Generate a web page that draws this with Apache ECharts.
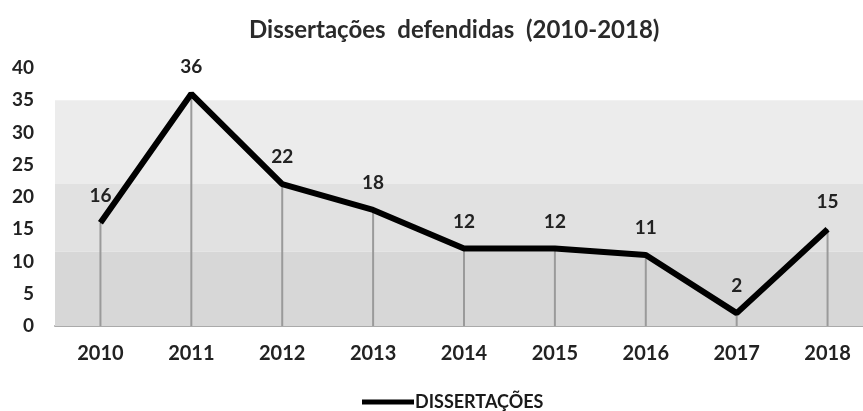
<!DOCTYPE html>
<html><head><meta charset="utf-8">
<script src="https://cdn.jsdelivr.net/npm/echarts@6/dist/echarts.min.js"></script>
<style>html,body{margin:0;padding:0;background:#fff;overflow:hidden}#c{width:873px;height:411px}</style>
</head><body><div id="c"></div>
<script>
const years = ['2010','2011','2012','2013','2014','2015','2016','2017','2018'];
const dissertacoes = [16,36,22,18,12,12,11,2,15];
const yTicks = [0,5,10,15,20,25,30,35,40];
const bands = [[0,11.5,'#d7d7d7'],[11.5,22,'#e1e1e1'],[22,35,'#ececec']];
const font = 'Lato, "Open Sans", sans-serif';
const chart = echarts.init(document.getElementById('c'));
chart.setOption({
  animation:false,
  title:{text:'Dissertações  defendidas  (2010-2018)',left:244,top:13,
    textStyle:{fontFamily:font,fontSize:24,fontWeight:'bold',color:'#2a2a2a'}},
  grid:{left:55,right:0,top:68,bottom:85},
  legend:{top:388,left:357,data:['DISSERTAÇÕES'],itemWidth:52,itemHeight:5,itemGap:0,
    icon:'rect',textStyle:{fontFamily:font,fontSize:18,fontWeight:'bold',color:'#1a1a1a',padding:[0,0,0,-4]}},
  xAxis:{type:'category',data:years,boundaryGap:true,
    axisLine:{show:true,lineStyle:{color:'#aaaaaa',width:2}},axisTick:{show:false},
    axisLabel:{fontFamily:font,fontSize:20,fontWeight:'bold',color:'#222',margin:18}},
  yAxis:{type:'value',min:yTicks[0],max:yTicks[yTicks.length-1],interval:5,
    axisLine:{show:false},axisTick:{show:false},splitLine:{show:false},
    axisLabel:{fontFamily:font,fontSize:19,fontWeight:'bold',color:'#222',margin:21}},
  series:[
    {type:'bar',data:dissertacoes,barWidth:2,itemStyle:{color:'#9a9a9a'},silent:true,z:2,
      markArea:{silent:true,data:bands.map(b=>[{yAxis:b[0],itemStyle:{color:b[2]}},{yAxis:b[1]}])}},
    {name:'DISSERTAÇÕES',type:'line',data:dissertacoes,symbol:'circle',symbolSize:1,showSymbol:true,z:5,
      lineStyle:{color:'#000',width:6},itemStyle:{color:'#000'},
      label:{show:true,position:'top',distance:17,fontFamily:font,fontSize:19,fontWeight:'bold',color:'#222'}}
  ]
});
</script></body></html>
